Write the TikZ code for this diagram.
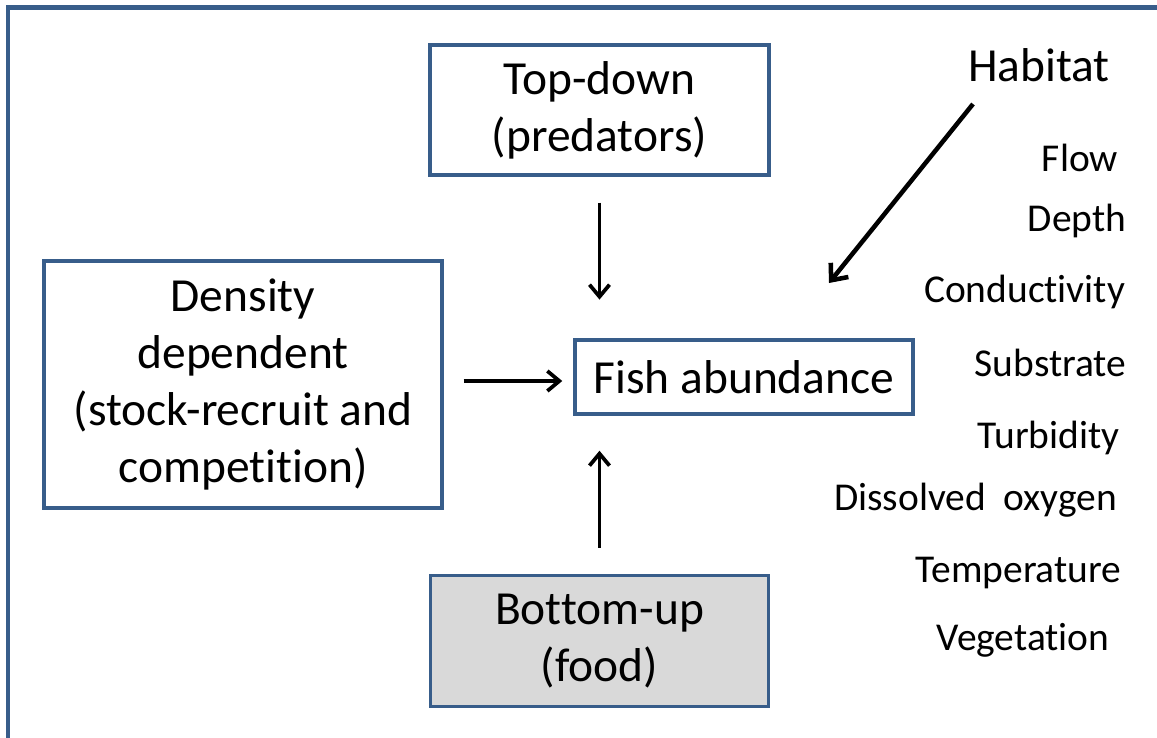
\documentclass[tikz,border=0pt]{standalone}
\usepackage{fontspec}
\setmainfont{Carlito}[Ligatures=NoCommon]
\usetikzlibrary{arrows.meta}
\definecolor{outlineblue}{HTML}{385D8A}
\definecolor{foodgray}{HTML}{D9D9D9}
\tikzset{
  factorbox/.style={draw=outlineblue, line width=2.6pt, align=center, inner sep=0pt,
    font=\fontsize{35.6}{42.75}\selectfont},
  listitem/.style={anchor=base, inner sep=0pt, font=\fontsize{29.6}{35}\selectfont},
  arr/.style={line width=2.8pt, -{Straight Barb[length=9pt, width=15pt]}},
  bigarr/.style={line width=3.4pt, -{Straight Barb[length=10pt, width=17pt]}},
}
\begin{document}
\begin{tikzpicture}[x=0.75pt, y=-0.75pt]
  \useasboundingbox (0,0) rectangle (1157,738);
  \clip (0,0) rectangle (1157,738);
  % surrounding frame, running off the right and bottom edges
  \draw[outlineblue, line width=3.6pt] (8,7.5) rectangle (1200,780);

  % factor boxes
  \node[factorbox, minimum width=254pt, minimum height=97.5pt] (td) at (599.5,110) {Top-down\\(predators)};
  \node[factorbox, minimum width=298.5pt, minimum height=185pt] (dd) at (243,384.5)
    {Density\\dependent\\(stock-recruit and\\competition)};
  \node[factorbox, minimum width=253.5pt, minimum height=55.5pt] (fish) at (744,377) {Fish abundance};
  \node[factorbox, fill=foodgray, minimum width=253.5pt, minimum height=98pt] (bu) at (599.5,641) {Bottom-up\\(food)};

  % habitat variables
  \node[anchor=base, inner sep=0pt, font=\fontsize{35.6}{42.75}\selectfont] (hab) at (1039,82) {Habitat};
  \node[listitem] (flow) at (1080,172) {Flow};
  \node[listitem] (depth) at (1077,232) {Depth};
  \node[listitem] (cond) at (1024.5,302) {Conductivity};
  \node[listitem] (subs) at (1050.5,376) {Substrate};
  \node[listitem] (turb) at (1048.5,448) {Turbidity};
  \node[listitem] (dox) at (975.5,510) {Dissolved\ \ oxygen};
  \node[listitem] (temp) at (1018.5,582) {Temperature};
  \node[listitem] (veg) at (1023,650) {Vegetation};

  % influences on fish abundance
  \draw[arr, shorten <=19.5pt, shorten >=29pt] (td.south) -- (td.south |- fish.north);
  \draw[arr, shorten <=15pt, shorten >=8.25pt] ([yshift=-3pt]dd.east |- fish.west) -- ([yshift=-3pt]fish.west);
  \draw[arr, shorten <=19.5pt, shorten >=26.25pt] (bu.north) -- (bu.north |- fish.south);

  \coordinate (habfrom) at (973,104);
  \coordinate (habto) at (829,283);
  \draw[bigarr] (habfrom) -- (habto);
\end{tikzpicture}
\end{document}
